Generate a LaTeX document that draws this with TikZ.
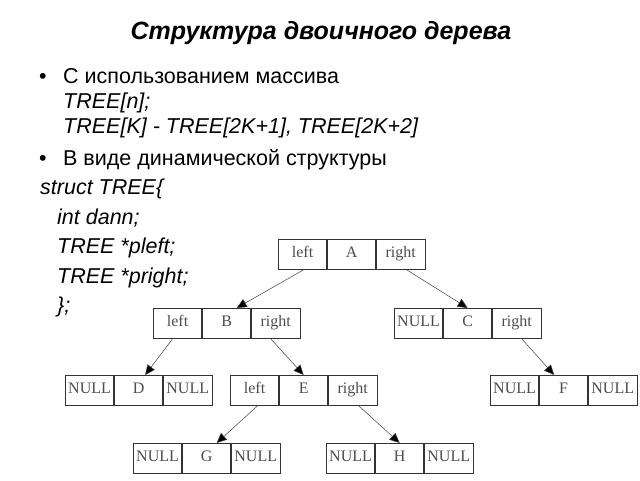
\documentclass[tikz,border=0pt]{standalone}
\usepackage{fontspec}
\setmainfont{Liberation Sans}
\newfontfamily\treefont{Liberation Serif}
\usetikzlibrary{arrows.meta}
\tikzset{
  cell/.style={draw=black!80, line width=0.8pt, minimum width=48.3pt, minimum height=30pt,
    inner sep=0pt, text height=10.5pt, text depth=3.5pt,
    font=\treefont\fontsize{16}{17}\selectfont, text=black!70},
  arr/.style={draw=black!75, line width=0.5pt, -{Triangle[length=10pt,width=9pt,fill=black]}},
  txt/.style={anchor=base west, inner sep=0pt, font=\fontsize{21.5}{24}\selectfont},
  itxt/.style={txt, font=\fontsize{21.5}{24}\selectfont\itshape},
  ttl/.style={inner sep=0pt, font=\fontsize{25}{28}\selectfont\bfseries\itshape}
}
\newcommand\mkrec[6]{%
  \node[cell, anchor=north west] (#1-l) at (#2,-#3) {#4};
  \node[cell, anchor=north west] (#1-m) at (#1-l.north east) {#5};
  \node[cell, anchor=north west] (#1-r) at (#1-m.north east) {#6};
}
\begin{document}
\begin{tikzpicture}[x=1pt,y=1pt]
\useasboundingbox (0,0) rectangle (640,-480);
\node[ttl] (title) at (321,-33) {Структура двоичного дерева};
\node[txt] (b1) at (39,-83) {•};
\node[txt] (l1) at (63,-83) {С использованием массива};
\node[itxt] (l2) at (63,-108) {TREE[n];};
\node[itxt] (l3) at (63,-133) {TREE[K] - TREE[2K+1], TREE[2K+2]};
\node[txt] (b2) at (39,-165) {•};
\node[txt] (l4) at (63,-165) {В виде динамической структуры};
\node[itxt] (c1) at (40,-194) {struct TREE\{};
\node[itxt] (c2) at (57,-224) {int dann;};
\node[itxt] (c3) at (57,-253) {TREE *pleft;};
\node[itxt] (c4) at (57,-283) {TREE *pright;};
\node[itxt] (c5) at (57,-312) {\};};

\mkrec{A}{278}{239}{left}{A}{right}
\mkrec{B}{153}{308}{left}{B}{right}
\mkrec{C}{394}{308}{NULL}{C}{right}
\mkrec{D}{65}{375}{NULL}{D}{NULL}
\mkrec{E}{230}{375}{left}{E}{right}
\mkrec{F}{490}{375}{NULL}{F}{NULL}
\mkrec{G}{133}{443}{NULL}{G}{NULL}
\mkrec{H}{326}{443}{NULL}{H}{NULL}

\draw[arr] ([xshift=1pt]A-l.south) -- ([xshift=10pt]B-m.north);
\draw[arr] ([xshift=6pt]A-r.south) -- (C-m.north);
\draw[arr] ([xshift=-5pt]B-l.south) -- ([xshift=6.5pt]D-m.north);
\draw[arr] ([xshift=-5pt]B-r.south) -- (E-m.north);
\draw[arr] ([xshift=5pt]C-r.south) -- ([xshift=-9.5pt]F-m.north);
\draw[arr] ([xshift=3pt]E-l.south) -- ([xshift=10pt]G-m.north);
\draw[arr] ([xshift=6pt]E-r.south) -- (H-m.north);
\end{tikzpicture}
\end{document}
